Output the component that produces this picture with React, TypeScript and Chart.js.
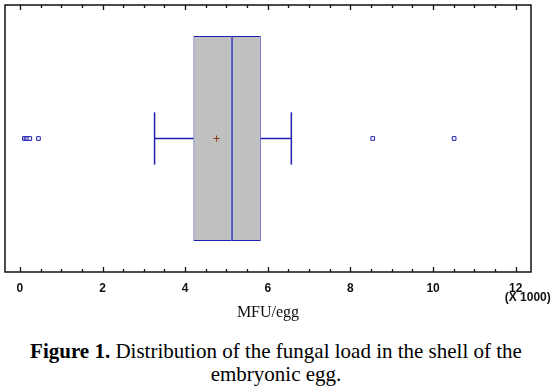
import React, { useEffect, useRef } from "react";
import { Chart, registerables } from "chart.js";

Chart.register(...registerables);

// Values in thousands of MFU/egg (axis shows "X 1000")
const categories = ["MFU/egg"];
const quartile1 = [4.2];
const medians = [5.13];
const quartile3 = [5.83];
const whiskerLow = [3.26];
const whiskerHigh = [6.57];
const means = [4.76];
const outliers = [0.11, 0.15, 0.19, 0.24, 0.45, 8.54, 10.51];
const tickLabels = [0, 2, 4, 6, 8, 10, 12];
const minorStep = 0.5;

const BLUE = "#1f1fb4";
const CENTER = 0.5;
const CAP = 0.098;

const framePlugin = {
  id: "frame",
  afterDatasetsDraw(chart: any) {
    const { ctx, chartArea, scales } = chart;
    const { left, right, top, bottom } = chartArea;
    const x = scales.x;
    ctx.save();
    ctx.strokeStyle = "#111";
    ctx.lineWidth = 1.5;
    ctx.strokeRect(left, top, right - left, bottom - top);
    ctx.lineWidth = 1.3;
    const first = tickLabels[0];
    const last = tickLabels[tickLabels.length - 1];
    for (let v = first; v <= last + 1e-9; v += minorStep) {
      const px = Math.round(x.getPixelForValue(v)) + 0.5;
      const major = tickLabels.some((t) => Math.abs(t - v) < 1e-9);
      const len = major ? 5 : 3;
      ctx.beginPath();
      ctx.moveTo(px, bottom);
      ctx.lineTo(px, bottom - len);
      ctx.moveTo(px, top);
      ctx.lineTo(px, top + len);
      ctx.stroke();
    }
    ctx.fillStyle = "#111";
    ctx.font = 'bold 12px "Liberation Sans", Arial, sans-serif';
    ctx.textAlign = "left";
    ctx.textBaseline = "middle";
    ctx.fillText("(X 1000)", x.getPixelForValue(last) - 11, bottom + 26);
    ctx.restore();
  },
};

export default function App() {
  const ref = useRef<HTMLCanvasElement | null>(null);

  useEffect(() => {
    const canvas = ref.current;
    if (!canvas) return;
    const chart = new Chart(canvas, {
      type: "bar",
      data: {
        labels: categories,
        datasets: [
          {
            type: "scatter",
            label: "mean",
            data: [{ x: means[0], y: CENTER }],
            xAxisID: "x",
            yAxisID: "y2",
            pointStyle: "cross",
            radius: 3,
            borderColor: "#8a3a1a",
            borderWidth: 1,
          },
          {
            type: "scatter",
            label: "outliers",
            data: outliers.map((v) => ({ x: v, y: CENTER })),
            xAxisID: "x",
            yAxisID: "y2",
            pointStyle: "rect",
            radius: 2.6,
            backgroundColor: "#ffffff",
            borderColor: BLUE,
            borderWidth: 1,
          },
          {
            type: "scatter",
            label: "lowWhisker",
            data: [
              { x: whiskerLow[0], y: CENTER },
              { x: quartile1[0], y: CENTER },
            ],
            xAxisID: "x",
            yAxisID: "y2",
            showLine: true,
            borderColor: BLUE,
            borderWidth: 1.5,
            pointRadius: 0,
          },
          {
            type: "scatter",
            label: "highWhisker",
            data: [
              { x: quartile3[0], y: CENTER },
              { x: whiskerHigh[0], y: CENTER },
            ],
            xAxisID: "x",
            yAxisID: "y2",
            showLine: true,
            borderColor: BLUE,
            borderWidth: 1.5,
            pointRadius: 0,
          },
          {
            type: "scatter",
            label: "lowCap",
            data: [
              { x: whiskerLow[0], y: CENTER - CAP },
              { x: whiskerLow[0], y: CENTER + CAP },
            ],
            xAxisID: "x",
            yAxisID: "y2",
            showLine: true,
            borderColor: BLUE,
            borderWidth: 1.5,
            pointRadius: 0,
          },
          {
            type: "scatter",
            label: "highCap",
            data: [
              { x: whiskerHigh[0], y: CENTER - CAP },
              { x: whiskerHigh[0], y: CENTER + CAP },
            ],
            xAxisID: "x",
            yAxisID: "y2",
            showLine: true,
            borderColor: BLUE,
            borderWidth: 1.5,
            pointRadius: 0,
          },
          {
            type: "bar",
            label: "Q1-median",
            indexAxis: "y",
            data: [[quartile1[0], medians[0]]],
            xAxisID: "x",
            yAxisID: "y",
            grouped: false,
            backgroundColor: "#c0c0c0",
            borderColor: BLUE,
            borderWidth: 1,
            borderSkipped: false,
            barPercentage: 0.767,
            categoryPercentage: 1,
          },
          {
            type: "bar",
            label: "median-Q3",
            indexAxis: "y",
            data: [[medians[0], quartile3[0]]],
            xAxisID: "x",
            yAxisID: "y",
            grouped: false,
            backgroundColor: "#c0c0c0",
            borderColor: BLUE,
            borderWidth: 1,
            borderSkipped: false,
            barPercentage: 0.767,
            categoryPercentage: 1,
          },
        ] as any,
      },
      options: {
        animation: false,
        responsive: false,
        maintainAspectRatio: false,
        layout: { padding: { left: 3, top: 4, right: 29, bottom: 8 } },
        plugins: {
          legend: { display: false },
          tooltip: { enabled: false },
        },
        scales: {
          x: {
            type: "linear",
            position: "bottom",
            offset: false,
            min: -0.36,
            max: 12.37,
            grid: { display: false, drawTicks: false, offset: false },
            border: { display: false },
            afterBuildTicks: (scale: any) => {
              scale.ticks = tickLabels.map((v) => ({ value: v }));
            },
            afterFit: (scale: any) => {
              scale.height = 50;
            },
            ticks: {
              padding: 9,
              color: "#111",
              font: { family: '"Liberation Sans", Arial, sans-serif', size: 12, weight: "bold" },
              maxRotation: 0,
              autoSkip: false,
            },
            title: {
              display: true,
              text: "MFU/egg",
              color: "#111",
              padding: { top: 0, bottom: 0 },
              font: { family: '"Liberation Serif", "Times New Roman", serif', size: 16 },
            },
          },
          y: {
            type: "category",
            display: false,
            offset: true,
            labels: categories,
          },
          y2: {
            type: "linear",
            display: false,
            min: 0,
            max: 1,
          },
        } as any,
      },
      plugins: [framePlugin],
    });
    return () => chart.destroy();
  }, []);

  return (
    <div style={{ position: "absolute", left: 0, top: 0, width: 560, height: 387, background: "#fff" }}>
      <canvas ref={ref} width={560} height={330} style={{ display: "block" }} />
      <div
        style={{
          position: "absolute",
          left: 0,
          top: 340,
          width: 552,
          textAlign: "center",
          fontFamily: '"Liberation Serif", "Times New Roman", serif',
          fontSize: 21,
          lineHeight: "23px",
          color: "#000",
        }}
      >
        <b>Figure 1.</b> Distribution of the fungal load in the shell of the
        <br />
        embryonic egg.
      </div>
    </div>
  );
}
